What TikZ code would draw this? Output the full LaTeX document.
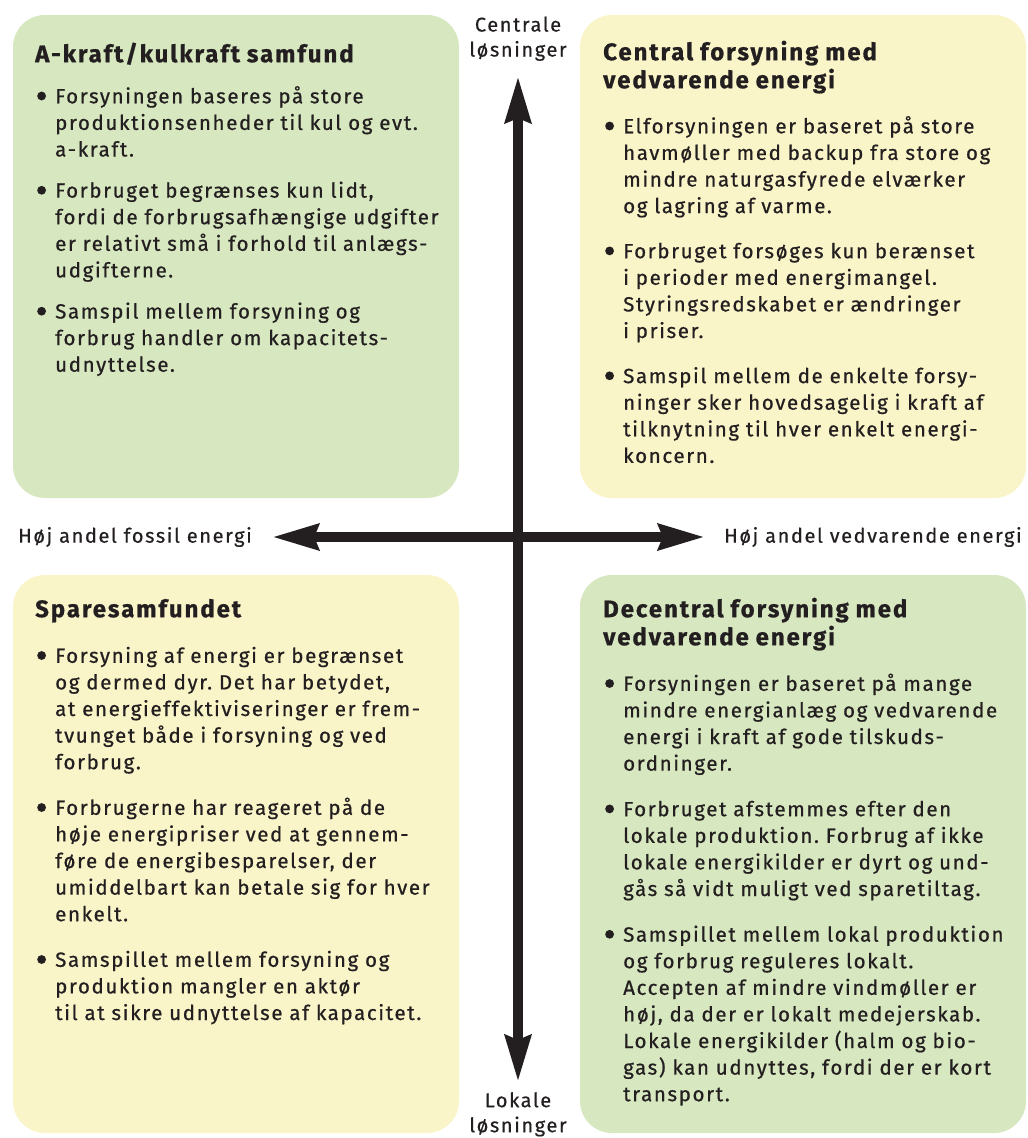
\documentclass[tikz,border=0pt]{standalone}
\usepackage{fontspec}
\setmainfont[LetterSpace=8]{Fira Sans}
\usetikzlibrary{arrows.meta, positioning}

\definecolor{feltgron}{HTML}{D7E8C0}
\definecolor{feltgul}{HTML}{FAF5C9}
\definecolor{tekstsort}{HTML}{231F20}

\providecommand{\nl}{\hfil\break}
\providecommand{\prik}{\hspace*{2pt}\raisebox{2.9pt}{\tikz\fill[tekstsort] (0pt,0pt) circle (4.4pt);}}
\providecommand{\punkt}[1]{%
  \par\hangindent=20pt\hangafter=1\noindent
  \makebox[20pt][l]{\prik}#1\par}
\providecommand{\overskrift}[1]{%
  \noindent{\fontsize{24}{28}\bfseries\selectfont\rule{0pt}{20pt}#1\par}}

\tikzset{
  felt/.style={rounded corners=32pt},
  tekstblok/.style={anchor=north west, inner sep=0pt, text width=440pt,
    text=tekstsort, font=\fontsize{20.5}{26.6}\selectfont\frenchspacing\addfontfeature{FakeBold=0.7}},
  akse/.style={line width=10pt, tekstsort,
    {Stealth[length=46pt, width=25pt, inset=4pt]}-{Stealth[length=46pt, width=25pt, inset=4pt]}},
  aksetekst/.style={text=tekstsort, inner sep=0pt,
    font=\fontsize{20}{25}\selectfont\addfontfeature{FakeBold=0.5}}
}

\begin{document}
\begin{tikzpicture}[x=1pt, y=-1pt]
	\useasboundingbox (0,0) rectangle (1028,1138);

	\coordinate (top) at (518,76);
	\coordinate (bund) at (518,1082);
	\coordinate (venstre) at (272,537);
	\coordinate (hojre) at (705,537);

	% de fire felter
	\fill[felt, feltgron] (13,15) rectangle (459,498);
	\fill[felt, feltgul] (580,15) rectangle (1026,498);
	\fill[felt, feltgul] (13,575) rectangle (459,1133);
	\fill[felt, feltgron] (580,575) rectangle (1026,1133);

	\node[tekstblok] (akraft) at (35,42) {\setlength{\parskip}{14.5pt}%
		\overskrift{A-kraft/kulkraft samfund}
		\punkt{Forsyningen baseres på store\nl produktionsenheder til kul og evt.\nl a-kraft.}
		\punkt{Forbruget begrænses kun lidt,\nl fordi de forbrugsafhængige udgifter\nl er relativt små i forhold til anlægs-\nl udgifterne.}
		\punkt{Samspil mellem forsyning og\nl forbrug handler om kapacitets-\nl udnyttelse.}};

	\node[tekstblok] (central) at (603,40) {\setlength{\parskip}{18.5pt}%
		\overskrift{Central forsyning med\nl vedvarende energi}
		\punkt{Elforsyningen er baseret på store\nl havmøller med backup fra store og\nl mindre naturgasfyrede elværker\nl og lagring af varme.}
		\punkt{Forbruget forsøges kun berænset\nl i perioder med energimangel.\nl Styringsredskabet er ændringer\nl i priser.}
		\punkt{Samspil mellem de enkelte forsy-\nl ninger sker hovedsagelig i kraft af\nl tilknytning til hver enkelt energi-\nl koncern.}};

	\node[tekstblok] (spare) at (35,597) {\setlength{\parskip}{19pt}%
		\overskrift{Sparesamfundet}
		\punkt{Forsyning af energi er begrænset\nl og dermed dyr. Det har betydet,\nl at energieffektiviseringer er frem-\nl tvunget både i forsyning og ved\nl forbrug.}
		\punkt{Forbrugerne har reageret på de\nl høje energipriser ved at gennem-\nl føre de energibesparelser, der\nl umiddelbart kan betale sig for hver\nl enkelt.}
		\punkt{Samspillet mellem forsyning og\nl produktion mangler en aktør\nl til at sikre udnyttelse af kapacitet.}};

	\node[tekstblok] (decentral) at (603,597) {\setlength{\parskip}{19pt}%
		\overskrift{Decentral forsyning med\nl vedvarende energi}
		\punkt{Forsyningen er baseret på mange\nl mindre energianlæg og vedvarende\nl energi i kraft af gode tilskuds-\nl ordninger.}
		\punkt{Forbruget afstemmes efter den\nl lokale produktion. Forbrug af ikke\nl lokale energikilder er dyrt og und-\nl gås så vidt muligt ved sparetiltag.}
		\punkt{Samspillet mellem lokal produktion\nl og forbrug reguleres lokalt.\nl Accepten af mindre vindmøller er\nl høj, da der er lokalt medejerskab.\nl Lokale energikilder (halm og bio-\nl gas) kan udnyttes, fordi der er kort\nl transport.}};

	% akserne
	\draw[akse] (venstre) -- (hojre);
	\draw[akse] (top) -- (bund);

	\node[aksetekst, align=center, above=15pt of top] (centrale) {Centrale\\løsninger};
	\node[aksetekst, align=center, below=10pt of bund] (lokale) {Lokale\\løsninger};
	\node[aksetekst, left=20pt of venstre] (fossil) {Høj andel fossil energi};
	\node[aksetekst, right=19pt of hojre] (vedvarende) {Høj andel vedvarende energi};

\end{tikzpicture}
\end{document}
